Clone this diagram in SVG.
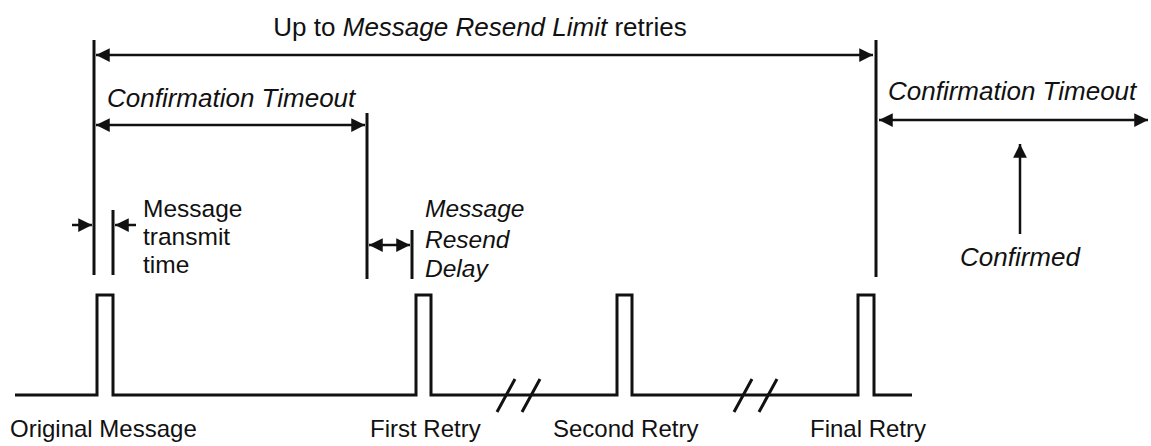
<svg xmlns="http://www.w3.org/2000/svg" width="1151" height="446" viewBox="0 0 1151 446">
<defs>
<marker id="ah" viewBox="0 0 10 10" refX="10" refY="5" markerWidth="5.5" markerHeight="5.5" orient="auto-start-reverse"><path d="M0,0 L10,5 L0,10 z" fill="#111"/></marker>
<style>
text{font-family:"Liberation Sans",Arial,sans-serif;font-size:26px;fill:#111}
.i{font-style:italic}
.b{font-size:24px}
.s{font-size:24.5px}
.l{stroke:#111;stroke-width:3;fill:none}
.a{stroke:#111;stroke-width:2.5;fill:none}
</style>
</defs>
<rect width="1151" height="446" fill="#fff"/>
<g id="signal">
<path class="l" d="M15,395 H97 V295 H113 V395 H416 V295 H431 V395 H617 V295 H632 V395 H858 V295 H874 V395 H912"/>
<path class="l" d="M497,412 L515,379 M522,412 L540,379 M734,412 L752,379 M759,412 L777,379" stroke-width="4"/>
</g>
<g id="markers">
<line class="l" x1="94" y1="40" x2="94" y2="275"/>
<line class="l" x1="113" y1="210" x2="113" y2="275"/>
<line class="l" x1="367" y1="113" x2="367" y2="279"/>
<line class="l" x1="412" y1="230" x2="412" y2="279"/>
<line class="l" x1="876" y1="40" x2="876" y2="277"/>
</g>
<g id="connectors">
<line class="a" x1="96" y1="55" x2="873" y2="55" marker-start="url(#ah)" marker-end="url(#ah)"/>
<line class="a" x1="96" y1="125" x2="365" y2="125" marker-start="url(#ah)" marker-end="url(#ah)"/>
<line class="a" x1="879" y1="120" x2="1148" y2="120" marker-start="url(#ah)" marker-end="url(#ah)"/>
<line class="a" x1="1020" y1="234" x2="1020" y2="144" marker-end="url(#ah)"/>
<line class="a" x1="369" y1="245" x2="410" y2="245" marker-start="url(#ah)" marker-end="url(#ah)"/>
<line class="a" x1="72" y1="225" x2="92" y2="225" marker-end="url(#ah)"/>
<line class="a" x1="136" y1="225" x2="115" y2="225" marker-end="url(#ah)"/>
</g>
<g id="labels">
<text x="480" y="36" text-anchor="middle">Up to <tspan class="i">Message Resend Limit</tspan> retries</text>
<text class="i" x="107" y="107">Confirmation Timeout</text>
<text class="i" x="888" y="100">Confirmation Timeout</text>
<text class="i" x="960" y="266">Confirmed</text>
<text class="s" x="143" y="217">Message</text>
<text class="s" x="143" y="245">transmit</text>
<text class="s" x="143" y="273">time</text>
<text class="i s" x="425" y="217">Message</text>
<text class="i s" x="425" y="248">Resend</text>
<text class="i s" x="425" y="277">Delay</text>
<text class="b" x="10" y="437">Original Message</text>
<text class="b" x="370" y="437">First Retry</text>
<text class="b" x="553" y="437">Second Retry</text>
<text class="b" x="810" y="437">Final Retry</text>
</g>
</svg>
